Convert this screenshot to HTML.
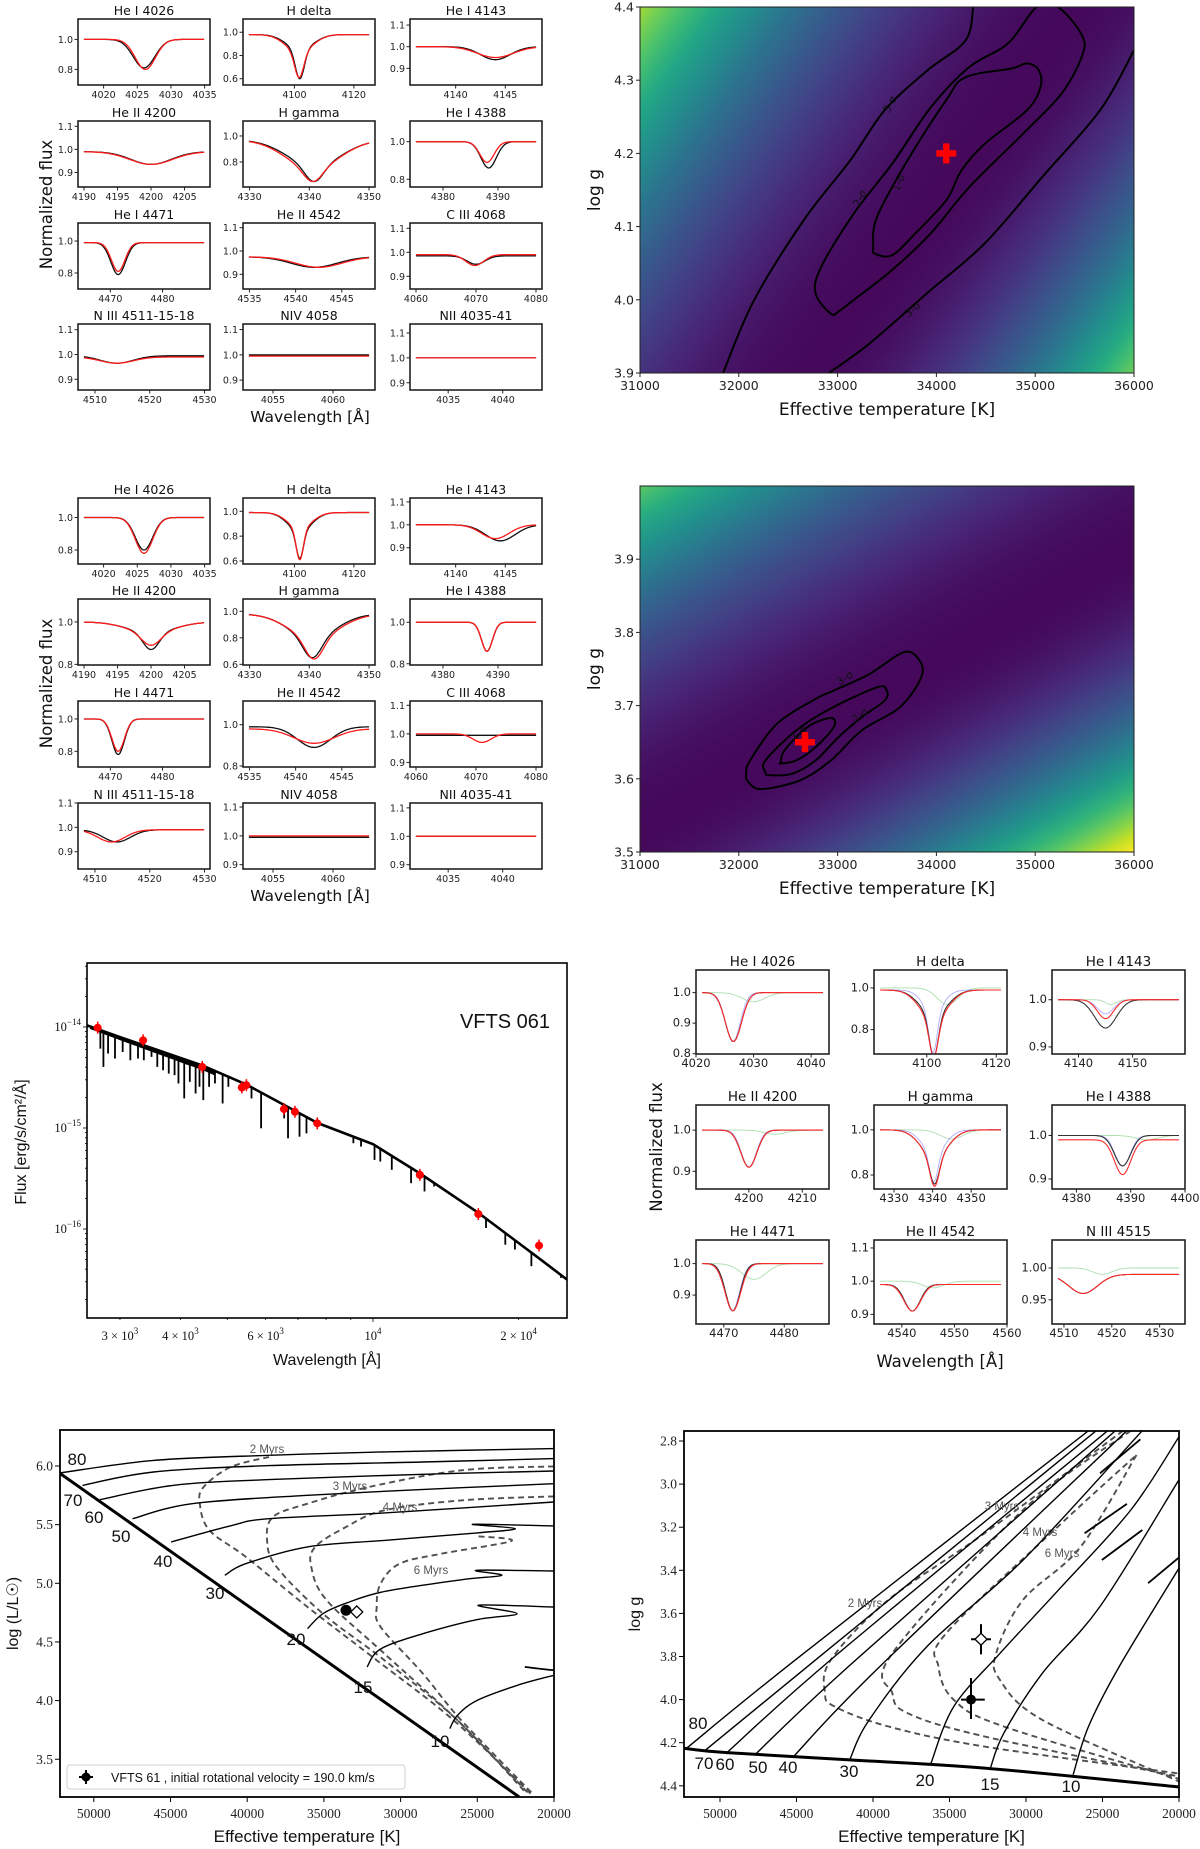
<!DOCTYPE html>
<html><head><meta charset="utf-8">
<style>
html,body{margin:0;padding:0;background:#fff;}
svg{display:block;font-family:"DejaVu Sans","Liberation Sans",sans-serif;}
</style></head>
<body>
<svg id="fig" xmlns="http://www.w3.org/2000/svg" width="1200" height="1849" viewBox="0 0 1200 1849">
<rect x="0" y="0" width="1200" height="1849" fill="#fff"/>
<g id="b1"></g>
<g id="b2"></g>
<g id="h1"></g>
<g id="h2"></g>
<g id="sed"></g>
<g id="b3"></g>
<g id="hrd"></g>
<g id="kiel"></g>
</svg>
<script>
// ---------------- DATA ----------------
const titles12 = ["He I 4026","H delta","He I 4143","He II 4200","H gamma","He I 4388","He I 4471","He II 4542","C III 4068","N III 4511-15-18","NIV 4058","NII 4035-41"];
const xr12 = [[4016.2,4035.8],[4082.7,4127.1],[4135.4,4148.7],[4189.1,4208.8],[4328.9,4351],[4374,4398],[4463.8,4489.1],[4534.3,4548.6],[4059,4081],[4506.9,4531],[4052.5,4063.5],[4031.5,4043.6]];
const xt12 = [[4020,4025,4030,4035],[4100,4120],[4140,4145],[4190,4195,4200,4205],[4330,4340,4350],[4380,4390],[4470,4480],[4535,4540,4545],[4060,4070,4080],[4510,4520,4530],[4055,4060],[4035,4040]];
const yr1 = [[0.696,1.136],[0.546,1.114],[0.823,1.128],[0.837,1.123],[0.608,1.115],[0.759,1.11],[0.7,1.1125],[0.837,1.12],[0.847,1.122],[0.857,1.123],[0.861,1.122],[0.871,1.136]];
const yt1 = [[0.8,1.0],[0.6,0.8,1.0],[0.9,1.0,1.1],[0.9,1.0,1.1],[0.8,1.0],[0.8,1.0],[0.8,1.0],[0.9,1.0,1.1],[0.9,1.0,1.1],[0.9,1.0,1.1],[0.9,1.0,1.1],[0.9,1.0,1.1]];
const obs1 = [[1.0,4026,0.19,1.6],[0.98,4101.8,0.25,1.5,0.13,4.5],[1.0,4144,0.06,1.5],[0.99,4200,0.055,3],[0.97,4340.8,0.12,1.5,0.2,4.5],[1.0,4388.3,0.14,1.4],[0.99,4471.5,0.2,1.4],[0.975,4542,0.045,2.5],[0.985,4070,0.035,1.5],[0.995,4514,0.03,3],[1.0,4058,0,1],[1.0,4038,0,1]];
const mod1 = [[1.0,4026.2,0.2,1.5],[0.98,4101.6,0.22,1.5,0.15,4.5],[1.0,4144,0.05,1.8],[0.99,4200,0.055,3.2],[0.97,4340.6,0.1,1.5,0.22,4.5],[1.0,4388,0.11,1.3],[0.99,4471.5,0.18,1.3],[0.975,4542.5,0.045,2.5],[0.99,4069.8,0.045,1.5],[0.99,4514,0.025,3],[0.995,4058,0,1],[1.0,4038,0,1]];
const yr2 = [[0.714,1.12],[0.576,1.107],[0.829,1.117],[0.797,1.108],[0.595,1.0925],[0.794,1.112],[0.703,1.111],[0.795,1.115],[0.884,1.115],[0.829,1.1],[0.885,1.114],[0.885,1.117]];
const yt2 = [[0.8,1.0],[0.6,0.8,1.0],[0.9,1.0,1.1],[0.8,1.0],[0.6,0.8,1.0],[0.8,1.0],[0.8,1.0],[0.8,1.0],[0.9,1.0,1.1],[0.9,1.0,1.1],[0.9,1.0,1.1],[0.9,1.0,1.1]];
const obs2 = [[1.0,4026,0.2,1.3],[0.99,4101.8,0.22,1.2,0.15,4],[1.0,4144.5,0.07,1.5],[1.0,4200,0.08,1.2,0.05,3.5],[0.98,4340.5,0.15,1.5,0.18,4],[1.0,4388,0.14,1.0],[1.0,4471.5,0.22,1.2],[0.99,4542,0.1,1.8],[0.995,4070,0,1],[0.99,4514,0.05,2.5],[0.995,4058,0,1],[1.0,4038,0,1]];
const mod2 = [[1.0,4026,0.22,1.3],[0.99,4101.8,0.25,1.2,0.13,4],[1.0,4144,0.06,1.4],[1.0,4200,0.06,1.4,0.05,3.5],[0.98,4340.8,0.16,1.5,0.18,4.2],[1.0,4388,0.14,1.0],[1.0,4471.5,0.2,1.2],[0.98,4542,0.07,2.2],[1.0,4071,0.03,1.5],[0.99,4513,0.05,2.5],[1.0,4058,0,1],[1.0,4038,0,1]];
const titles3 = ["He I 4026","H delta","He I 4143","He II 4200","H gamma","He I 4388","He I 4471","He II 4542","N III 4515"];
const xr3 = [[4020,4043.1],[4084.8,4123.1],[4135.1,4159.7],[4190.1,4215],[4324.8,4359.3],[4375.5,4400],[4465.4,4487.4],[4534.7,4560],[4507.5,4535.3]];
const xt3 = [[4020,4030,4040],[4100,4120],[4140,4150],[4200,4210],[4330,4340,4350],[4380,4390,4400],[4470,4480],[4540,4550,4560],[4510,4520,4530]];
const yr3 = [[0.799,1.074],[0.683,1.086],[0.885,1.063],[0.857,1.061],[0.738,1.11],[0.877,1.07],[0.808,1.075],[0.871,1.124],[0.912,1.044]];
const yt3 = [[0.8,0.9,1.0],[0.8,1.0],[0.9,1.0],[0.9,1.0],[0.8,1.0],[0.9,1.0],[0.9,1.0],[0.9,1.0,1.1],[0.95,1.0]];
const yl3 = [["0.8","0.9","1.0"],["0.8","1.0"],["0.9","1.0"],["0.9","1.0"],["0.8","1.0"],["0.9","1.0"],["0.9","1.0"],["0.9","1.0","1.1"],["0.95","1.00"]];
const obs3 = [[1.0,4026.5,0.16,1.4],[0.99,4102,0.2,1.3,0.12,4],[1.0,4145,0.06,2],[1.0,4200,0.09,1.5],[1.0,4340.5,0.12,1.2,0.12,3.5],[1.0,4388.5,0.07,1.5],[1.0,4471.5,0.15,1.2],[0.99,4542,0.08,1.5],[0.99,4514,0.03,3]];
const mod3 = [[1.0,4026.5,0.16,1.4],[0.99,4102,0.18,1.3,0.14,4],[1.0,4145,0.04,1.5],[1.0,4200,0.09,1.5],[1.0,4340.5,0.13,1.2,0.12,3.5],[0.99,4388.5,0.08,1.5],[1.0,4471.5,0.15,1.3],[0.99,4542,0.08,1.6],[0.99,4514,0.03,3]];
const blue3 = [[1.0,4026.4,0.16,1.3],[0.99,4101.8,0.2,1.2,0.1,3],[1.0,4145,0.03,1.5],[1.0,4200,0.09,1.4],[1.0,4340.3,0.13,1.1,0.1,3],[1.0,4388.5,0.07,1.4],[1.0,4471.4,0.15,1.2],[0.99,4542,0.08,1.5],[0.99,4514,0.03,3]];
const green3 = [[1.0,4030,0.03,2],[1.0,4106,0.08,3],[1.0,4146,0.01,1],[1.0,4205,0.01,2],[1.0,4345,0.04,3],[1.0,4393,0.01,2],[1.0,4475,0.05,2],[1.0,4546,0.02,2],[1.0,4518,0.01,2]];

const map1Field = [900,250,147,108,-353,261,385,300];
const map2Field = [870,700,200,350,-300,263,353,263];
const map1Best = [34100,4.2];
const map2Best = [32670,3.65];
const m1c1 = [[33360,4.072],[33399,4.113],[33710,4.191],[34100,4.273],[34294,4.304],[34762,4.316],[34917,4.323],[35034,4.314],[35054,4.291],[34917,4.259],[34489,4.213],[34255,4.177],[34100,4.136],[33788,4.091],[33554,4.061],[33379,4.063]];
const m1c2 = [[32931,3.981],[32776,4.009],[32834,4.045],[33165,4.118],[33554,4.186],[33944,4.263],[34333,4.318],[34723,4.35],[35015,4.4],[35229,4.4],[35463,4.364],[35482,4.336],[35268,4.282],[34878,4.227],[34333,4.154],[33944,4.091],[33554,4.041],[33165,4.0],[33009,3.984]];
const m1c3a = [[31841,3.9],[32153,3.999],[32659,4.109],[33126,4.19],[33477,4.259],[33905,4.313],[34294,4.354],[34372,4.4]];
const m1c3b = [[32912,3.9],[33321,3.94],[33905,4.009],[34489,4.077],[35073,4.168],[35657,4.259],[36000,4.341]];
const m2c3 = [[32075,3.607],[32114,3.625],[32386,3.675],[32776,3.709],[32970,3.721],[33321,3.743],[33671,3.773],[33827,3.762],[33847,3.739],[33632,3.698],[33243,3.666],[32931,3.625],[32620,3.598],[32231,3.586],[32094,3.596]];
const m2c2 = [[32269,3.609],[32269,3.625],[32581,3.666],[32931,3.696],[33399,3.725],[33496,3.721],[33477,3.707],[33243,3.684],[33009,3.657],[32776,3.625],[32542,3.607],[32308,3.605]];
const m2c1 = [[32425,3.623],[32464,3.639],[32698,3.671],[32931,3.683],[32963,3.671],[32776,3.643],[32581,3.625],[32425,3.621]];
const mapXTicks = [31000,32000,33000,34000,35000,36000];
const map1YTicks = [3.9,4.0,4.1,4.2,4.3,4.4];
const map2YTicks = [3.5,3.6,3.7,3.8,3.9];

const photWl = [2698,3349,4438,5358,5476,6546,6899,7671,12500,16510,22040];
const photLogF = [-14.007,-14.132,-14.395,-14.599,-14.576,-14.8125,-14.839,-14.954,-15.464,-15.852,-16.164];
const contWl = [2565,3000,4438,5476,7671,10000,12500,16510,22040,25170];
const contLogF = [-13.984,-14.1,-14.38,-14.57,-14.95,-15.16,-15.45,-15.84,-16.29,-16.5];
const lineWl = [2733,2773,2835,2930,3039,3152,3269,3361,3486,3583,3683,3784,3890,3963,4073,4183,4300,4380,4460,4585,4715,4890,5025,5610,5872,6553,6675,7050,7287,8310,9110,9448,10074,10354,10937,11988,12780,13376,17125,18770,19650,21250,24470];
const lineLogF = [-14.214,-14.395,-14.263,-14.3125,-14.247,-14.329,-14.3125,-14.329,-14.296,-14.395,-14.428,-14.461,-14.477,-14.559,-14.707,-14.543,-14.658,-14.592,-14.724,-14.592,-14.559,-14.757,-14.592,-14.707,-15.003,-14.905,-15.102,-15.086,-15.053,-15.02,-15.151,-15.184,-15.316,-15.332,-15.414,-15.546,-15.628,-15.579,-15.99,-16.155,-16.204,-16.368,-16.484];

const zamsL = [[52243,5.94],[22280,3.18]];
const massLabels = ["80","70","60","50","40","30","20","15","10"];
const tracksL = [
 [[52243,5.94],[46101,6.048],[38578,6.091],[31056,6.12],[20000,6.148]],
 [[50737,5.835],[46101,5.949],[38578,6.003],[28546,6.034],[20000,6.063]],
 [[49609,5.713],[44843,5.835],[38578,5.884],[28546,5.929],[20000,5.957]],
 [[47477,5.551],[43592,5.679],[36068,5.75],[26043,5.815],[20000,5.849]],
 [[44967,5.352],[41082,5.49],[38578,5.551],[31056,5.6],[20000,5.693]],
 [[41460,5.068],[40078,5.168],[36068,5.31],[31056,5.366],[25000,5.43],[22529,5.466],[25287,5.503],[20000,5.489]],
 [[36068,4.614],[35065,4.741],[33559,4.83],[31056,4.93],[26043,5.03],[23409,5.068],[25039,5.111],[20000,5.105]],
 [[32184,4.287],[31304,4.44],[28546,4.57],[25039,4.69],[22405,4.741],[24915,4.813],[20000,4.798]],
 [[26793,3.761],[26291,3.875],[25039,4.0],[22405,4.13],[20000,4.216]]
];
const hookL = [[21903,4.287],[20500,4.265],[20000,4.259]];
const massLabelPosL = [[77,1459],[73,1500],[94,1517],[121,1536],[163,1561],[215,1593],[296,1639],[363,1687],[440,1741]];
const isoNames = ["2 Myrs","3 Myrs","4 Myrs","6 Myrs"];
const isoL = [
 [[38578,6.077],[41082,5.991],[42842,5.821],[43090,5.679],[42464,5.452],[40078,5.224],[36068,4.798],[31558,4.344],[26545,3.832],[21525,3.207]],
 [[20000,5.997],[26043,5.963],[32060,5.821],[36068,5.679],[38324,5.565],[38702,5.366],[38076,5.139],[35065,4.741],[31056,4.344],[26291,3.832],[21779,3.207]],
 [[20000,5.741],[26043,5.707],[31056,5.622],[33559,5.48],[35566,5.31],[35821,5.139],[34817,4.855],[31056,4.401],[26291,3.832],[21650,3.207]],
 [[24915,5.401],[22783,5.361],[27295,5.253],[30052,5.168],[31304,4.997],[31558,4.798],[31304,4.628],[28546,4.23],[26043,3.832],[21400,3.207]]
];
const starL = [33559,4.77];
const starLalt = [32860,4.756];
const hrdXTicks = [50000,45000,40000,35000,30000,25000,20000];
const hrdYTicks = [3.5,4.0,4.5,5.0,5.5,6.0];

const zamsG = [[52366,4.226],[49550,4.246],[41503,4.28],[32706,4.318],[20000,4.405]];
const tracksG = [
 [[52190,4.226],[45150,3.82],[25915,2.752]],
 [[50930,4.233],[43137,3.78],[25412,2.752]],
 [[49550,4.246],[42509,3.8],[24660,2.752]],
 [[47660,4.252],[41503,3.84],[24157,2.752]],
 [[45150,4.261],[39745,3.86],[23404,2.752]],
 [[41503,4.276],[40248,4.094],[36477,3.754],[30190,3.352],[22398,2.752]],
 [[36222,4.298],[34719,4.032],[31699,3.785],[27680,3.476],[23150,3.12],[20000,2.78]],
 [[32327,4.318],[31451,4.156],[28935,3.878],[25163,3.568],[20000,2.98]],
 [[26922,4.349],[25915,4.125],[23908,3.847],[20000,3.39]]
];
const hooksG = [[[25163,2.95],[22522,2.792]],[[26170,3.228],[23404,3.092]],[[25039,3.352],[22398,3.213]],[[22019,3.46],[20000,3.34]]];
const massLabelPosG = [[698,1723],[704,1763],[725,1764],[758,1767],[788,1767],[849,1771],[925,1780],[990,1784],[1071,1786]];
const isoG = [
 [[23653,2.752],[32706,3.228],[38987,3.537],[42758,3.816],[43137,3.97],[42509,4.032],[38987,4.125],[32706,4.218],[20000,4.343]],
 [[23150,2.752],[30190,3.12],[38739,3.785],[38739,3.97],[37732,4.063],[32706,4.171],[20000,4.357]],
 [[22901,2.873],[27680,3.182],[35215,3.692],[35719,3.847],[34719,4.001],[31451,4.125],[20000,4.368]],
 [[22777,2.865],[26419,3.29],[30190,3.537],[31948,3.785],[31699,3.909],[28935,4.094],[20000,4.38]]
];
const isoLabelG = [[865,1603],[1002,1506],[1040,1532],[1062,1553]];
const isoLabelL = [[267,1449],[350,1486],[400,1507],[431,1570]];
const starG = [33594,4.0];
const starGerr = [650,900,0.1,0.09];
const starGalt = [32941,3.72];
const starGaltErr = [650,650,0.07,0.07];
const kielYTicks = [2.8,3.0,3.2,3.4,3.6,3.8,4.0,4.2,4.4];

// ---------------- HELPERS ----------------
const NS="http://www.w3.org/2000/svg";
function mk(tag, attrs, parent){const e=document.createElementNS(NS,tag);for(const k in attrs)e.setAttribute(k,attrs[k]);parent.appendChild(e);return e;}
function txt(parent,x,y,s,size,anchor,fam,rot,fill){const t=mk("text",{x:x,y:y,"font-size":size,"text-anchor":anchor||"middle",fill:fill||"#111"},parent);if(fam)t.setAttribute("font-family",fam);if(rot)t.setAttribute("transform","rotate("+rot+" "+x+" "+y+")");t.textContent=s;return t;}
function smooth(pts,closed){
 const n=pts.length;if(n<3){return "M"+pts.map(p=>p[0].toFixed(1)+","+p[1].toFixed(1)).join("L");}
 const P=i=>closed?pts[(i+n)%n]:pts[Math.max(0,Math.min(n-1,i))];
 let d="M"+pts[0][0].toFixed(1)+","+pts[0][1].toFixed(1);
 const m=closed?n:n-1;
 for(let i=0;i<m;i++){const p0=P(i-1),p1=P(i),p2=P(i+1),p3=P(i+2);
  const c1=[p1[0]+(p2[0]-p0[0])/6,p1[1]+(p2[1]-p0[1])/6],c2=[p2[0]-(p3[0]-p1[0])/6,p2[1]-(p3[1]-p1[1])/6];
  d+="C"+c1[0].toFixed(1)+","+c1[1].toFixed(1)+" "+c2[0].toFixed(1)+","+c2[1].toFixed(1)+" "+p2[0].toFixed(1)+","+p2[1].toFixed(1);}
 return d+(closed?"Z":"");}
function prof(p,x){return p[0]-p[2]*Math.exp(-((x-p[1])**2)/(2*p[3]*p[3]))-(p[4]||0)*Math.exp(-((x-p[1])**2)/(2*(p[5]||1)**2));}
let clipN=0;
const viridis=["#440154","#482475","#414487","#355f8d","#2a788e","#21918c","#22a884","#44bf70","#7ad151","#bddf26","#fde725"];
function vir(v){v=Math.max(0,Math.min(1,v));const f=v*10,i=Math.min(9,Math.floor(f)),t=f-i;
 const a=viridis[i],b=viridis[i+1];const h=(s,k)=>parseInt(s.substr(1+2*k,2),16);
 let c="#";for(let k=0;k<3;k++){c+=Math.round(h(a,k)+(h(b,k)-h(a,k))*t).toString(16).padStart(2,"0");}return c;}

// ---------------- SPECTRA PANELS ----------------
function panel(parent,x0,y0,w,h,title,xr,xt,yr,yt,ylab,lines,tfs,lfs,name){
 const g=mk("g",{},parent);
 
 
 const sx=x=>x0+(x-xr[0])/(xr[1]-xr[0])*w, sy=y=>y0+h-(y-yr[0])/(yr[1]-yr[0])*h;
 const cid="c"+(clipN++);
 const cp=mk("clipPath",{id:cid},g);mk("rect",{x:x0,y:y0,width:w,height:h},cp);
 const lg=mk("g",{"clip-path":"url(#"+cid+")"},g);
 lines.forEach(L=>{
  const a=xr[0]+(xr[1]-xr[0])*0.045,b=xr[1]-(xr[1]-xr[0])*0.045;const pts=[];
  for(let i=0;i<=140;i++){const x=a+(b-a)*i/140;pts.push(sx(x).toFixed(1)+","+sy(prof(L.p,x)).toFixed(1));}
  const pl=mk("polyline",{points:pts.join(" "),fill:"none",stroke:L.c,"stroke-width":L.w},lg);
  
  
 });
 const fr=mk("rect",{x:x0,y:y0,width:w,height:h,fill:"none",stroke:"#222","stroke-width":1.6},g);
 
 
 const tt=txt(g,x0+w/2,y0-4,title,tfs);
 
 
 xt.forEach(v=>{const X=sx(v);mk("line",{x1:X,y1:y0+h,x2:X,y2:y0+h+3.5,stroke:"#222","stroke-width":1},g);
  const t=txt(g,X,y0+h+13,String(v),lfs,"middle",null,null,"#222");
  
  });
 yt.forEach((v,i)=>{const Y=sy(v);mk("line",{x1:x0-3.5,y1:Y,x2:x0,y2:Y,stroke:"#222","stroke-width":1},g);
  const t=txt(g,x0-5,Y+3.5,ylab?ylab[i]:v.toFixed(1),lfs,"end",null,null,"#222");
  
  });
}
function grid12(id,rows,yr,yt,obs,mod,wlY){
 const G=document.getElementById(id);const cols=[78,243,410];
 for(let i=0;i<12;i++){const r=Math.floor(i/3),c=i%3;
  panel(G,cols[c],rows[r],132,66,titles12[i],xr12[i],xt12[i],yr[i],yt[i],null,
   [{p:obs[i],c:"#111",w:1.3,n:"observed-spectrum"},{p:mod[i],c:"#ff1a1a",w:1.3,n:"model-spectrum"}],12.5,9.5,"panel-"+(i+1));}
 const a=txt(G,310,wlY,"Wavelength [Å]",15.5);
 
 
 const b=txt(G,52,(rows[0]+rows[3]+66)/2,"Normalized flux",16.5,"middle",null,-90);
 
 
}
grid12("b1",[19,121,223,324],yr1,yt1,obs1,mod1,422);
grid12("b2",[498,599,701,803],yr2,yt2,obs2,mod2,901);
(function(){
 const G=document.getElementById("b3");const cols=[696,874,1052],rows=[970,1105,1240];
 for(let i=0;i<9;i++){const r=Math.floor(i/3),c=i%3;
  panel(G,cols[c],rows[r],133,84,titles3[i],xr3[i],xt3[i],yr3[i],yt3[i],yl3[i],
   [{p:green3[i],c:"rgba(120,200,120,0.6)",w:0.9,n:"green-model"},{p:blue3[i],c:"rgba(120,120,255,0.6)",w:0.9,n:"blue-model"},{p:obs3[i],c:"#333",w:1.1,n:"observed-spectrum"},{p:mod3[i],c:"#ff2a2a",w:1.1,n:"model-spectrum"}],13.5,11.5,"panel3-"+(i+1));}
 const a=txt(G,940,1367,"Wavelength [Å]",16.5);
 
 
 const b=txt(G,662,1147,"Normalized flux",16.5,"middle",null,-90);
 
 
})();

// ---------------- CHI2 MAPS ----------------
function chiMap(id,y0,y1,gmin,gmax,field,yt,best,contours,labels){
 const G=document.getElementById(id);const x0=640,x1=1134;
 const sx=T=>x0+(T-31000)/5000*(x1-x0), sy=g=>y1-(g-gmin)/(gmax-gmin)*(y1-y0);
 const [cx,cy,dx,dy,dmin,dmax,an,ap]=field;const L=Math.hypot(dx,dy),nx=dx/L,ny=dy/L;
 const defs=mk("defs",{},G);const gid=id+"grad";
 const lg=mk("linearGradient",{id:gid,gradientUnits:"userSpaceOnUse",x1:cx+dmin*nx,y1:cy+dmin*ny,x2:cx+dmax*nx,y2:cy+dmax*ny},defs);
 for(let i=0;i<=40;i++){const d=dmin+(dmax-dmin)*i/40;const v=d<0?(-d/an)**2:(d/ap)**2;
  mk("stop",{offset:(i/40).toFixed(3),"stop-color":vir(0.02+v)},lg);}
 const r=mk("rect",{x:x0,y:y0,width:x1-x0,height:y1-y0,fill:"url(#"+gid+")"},G);
 
 
 const cp=mk("clipPath",{id:id+"clip"},G);mk("rect",{x:x0,y:y0,width:x1-x0,height:y1-y0},cp);
 const cg=mk("g",{"clip-path":"url(#"+id+"clip)"},G);
 contours.forEach(c=>{const p=mk("path",{d:smooth(c.pts.map(q=>[sx(q[0]),sy(q[1])]),c.closed),fill:"none",stroke:"#000","stroke-width":2},cg);
  
  });
 labels.forEach(l=>{const t=txt(G,l[0],l[1],l[2],10.5,"middle",null,l[3],"#111");
  
  });
 const bx=sx(best[0]),by=sy(best[1]);
 const pg=mk("g",{fill:"#ff0000"},G);
 
 
 mk("rect",{x:bx-10,y:by-3.2,width:20,height:6.4},pg);mk("rect",{x:bx-3.2,y:by-10,width:6.4,height:20},pg);
 mk("rect",{x:x0,y:y0,width:x1-x0,height:y1-y0,fill:"none",stroke:"#222","stroke-width":1},G);
 mapXTicks.forEach(v=>{const X=sx(v);mk("line",{x1:X,y1:y1,x2:X,y2:y1+4,stroke:"#222"},G);
  const t=txt(G,X,y1+17,String(v),12.5,"middle",null,null,"#222");
  
  });
 yt.forEach(v=>{const Y=sy(v);mk("line",{x1:x0-4,y1:Y,x2:x0,y2:Y,stroke:"#222"},G);
  const t=txt(G,x0-6,Y+4.5,v.toFixed(1),12.5,"end",null,null,"#222");
  
  });
 const a=txt(G,887,y1+42,"Effective temperature [K]",17);
 
 
 const b=txt(G,600,(y0+y1)/2,"log g",17,"middle",null,-90);
 
 
}
chiMap("h1",7,373,3.9,4.4,map1Field,map1YTicks,map1Best,
 [{pts:m1c1,closed:true,n:"contour-1-sigma"},{pts:m1c2,closed:true,n:"contour-2-sigma"},{pts:m1c3a,closed:false,n:"contour-3-sigma-left"},{pts:m1c3b,closed:false,n:"contour-3-sigma-right"}],
 [[893,106,"3-σ",-62],[863,200,"2-σ",-62],[902,184,"1-σ",-68],[915,312,"3-σ",-42]]);
chiMap("h2",486,852,3.5,4.0,map2Field,map2YTicks,map2Best,
 [{pts:m2c3,closed:true,n:"contour-3-sigma"},{pts:m2c2,closed:true,n:"contour-2-sigma"},{pts:m2c1,closed:true,n:"contour-1-sigma"}],
 [[847,681,"3-σ",-35],[862,718,"2-σ",-38],[801,736,"1-σ",-40]]);

// ---------------- SED ----------------
(function(){
 const G=document.getElementById("sed");const x0=87,x1=567,y0=963,y1=1318;
 const lmin=3.409,lmax=4.401;
 const sx=w=>x0+(Math.log10(w)-lmin)/(lmax-lmin)*(x1-x0), sy=lf=>1027+(-14-lf)*101;
 const cont=w=>{const lw=Math.log10(w);for(let i=0;i<contWl.length-1;i++){const a=Math.log10(contWl[i]),b=Math.log10(contWl[i+1]);
  if(lw<=b||i==contWl.length-2){const t=(lw-a)/(b-a);return contLogF[i]+(contLogF[i+1]-contLogF[i])*t;}}};
 const cp=mk("clipPath",{id:"sedclip"},G);mk("rect",{x:x0,y:y0,width:x1-x0,height:y1-y0},cp);
 const cg=mk("g",{"clip-path":"url(#sedclip)"},G);
 const fpts=[];for(let w=2600;w<=4700;w+=50)fpts.push(sx(w).toFixed(1)+","+sy(cont(w)).toFixed(1));
 for(let w=4700;w>=2600;w-=50)fpts.push(sx(w).toFixed(1)+","+sy(cont(w)-0.025-0.02*Math.min(1,(w-2600)/1500)).toFixed(1));
 const fb=mk("polygon",{points:fpts.join(" "),fill:"#000"},cg);
 
 
 const cpts=contWl.map(w=>sx(w).toFixed(1)+","+sy(cont(w)).toFixed(1));
 const cl=mk("polyline",{points:cpts.join(" "),fill:"none",stroke:"#000","stroke-width":2.6},cg);
 
 
 lineWl.forEach((w,i)=>{const l=mk("line",{x1:sx(w),y1:sy(cont(w)),x2:sx(w),y2:sy(lineLogF[i]),stroke:"#000","stroke-width":1.8},cg);
  
  });
 photWl.forEach((w,i)=>{const X=sx(w),Y=sy(photLogF[i]);
  const pg=mk("g",{},cg);
  
  
  mk("line",{x1:X,y1:Y-6,x2:X,y2:Y+6,stroke:"#f00","stroke-width":1.5},pg);
  mk("line",{x1:X-4,y1:Y,x2:X+4,y2:Y,stroke:"#f00","stroke-width":1.5},pg);
  mk("circle",{cx:X,cy:Y,r:4,fill:"#f00"},pg);});
 mk("rect",{x:x0,y:y0,width:x1-x0,height:y1-y0,fill:"none",stroke:"#000","stroke-width":1.6},G);
 [-17,-16,-15,-14].forEach(e=>{for(let k=1;k<10;k++){const lf=e+Math.log10(k);const Y=sy(lf);if(Y<y0||Y>y1)continue;
  mk("line",{x1:x0-(k==1?4:2),y1:Y,x2:x0,y2:Y,stroke:"#000","stroke-width":0.8},G);
  if(k==1){const t=mk("text",{x:x0-6,y:Y+4,"font-size":12.5,"text-anchor":"end","font-family":"Liberation Serif, serif",fill:"#111"},G);
   
   
   t.textContent="10";const s=mk("tspan",{dy:-6,"font-size":9},t);s.textContent="−"+(-e);}}});
 [3000,4000,5000,6000,7000,8000,9000,10000,20000].forEach(w=>{const X=sx(w);mk("line",{x1:X,y1:y1,x2:X,y2:y1+(w==10000?4:2),stroke:"#000","stroke-width":0.8},G);});
 [[3000,"3 × 10","3"],[4000,"4 × 10","3"],[6000,"6 × 10","3"],[10000,"10","4"],[20000,"2 × 10","4"]].forEach(a=>{
  const t=mk("text",{x:sx(a[0]),y:1340,"font-size":12.5,"text-anchor":"middle","font-family":"Liberation Serif, serif",fill:"#111"},G);
  
  
  t.textContent=a[1];const s=mk("tspan",{dy:-6,"font-size":9},t);s.textContent=a[2];});
 const a=txt(G,327,1365,"Wavelength [Å]",16,"middle","Liberation Sans, sans-serif");
 
 
 const b=txt(G,26,1142,"Flux [erg/s/cm²/Å]",16,"middle","Liberation Sans, sans-serif",-90);
 
 
 const c=txt(G,505,1028,"VFTS 061",20,"middle","Liberation Sans, sans-serif");
 
 
})();

// ---------------- HR / KIEL ----------------
function evoPlot(id,x0,x1,y0,y1,sx,sy,zams,tracks,extra,mlab,mpos,iso,isoPos,yt,yfmt,ylabel,ylx){
 const G=document.getElementById(id);
 const cp=mk("clipPath",{id:id+"clip"},G);mk("rect",{x:x0,y:y0,width:x1-x0,height:y1-y0},cp);
 const cg=mk("g",{"clip-path":"url(#"+id+"clip)"},G);
 iso.forEach((c,i)=>{const p=mk("path",{d:smooth(c.map(q=>[sx(q[0]),sy(q[1])]),false),fill:"none",stroke:"#505050","stroke-width":1.9,"stroke-dasharray":"6,4"},cg);
  
  });
 tracks.forEach((c,i)=>{const p=mk("path",{d:smooth(c.map(q=>[sx(q[0]),sy(q[1])]),false),fill:"none",stroke:"#000","stroke-width":1.4},cg);
  
  });
 extra.forEach(c=>{const p=mk("path",{d:smooth(c.map(q=>[sx(q[0]),sy(q[1])]),false),fill:"none",stroke:"#000","stroke-width":1.8},cg);
  
  });
 const z=mk("path",{d:smooth(zams.map(q=>[sx(q[0]),sy(q[1])]),false),fill:"none",stroke:"#000","stroke-width":3},cg);
 
 
 mk("rect",{x:x0,y:y0,width:x1-x0,height:y1-y0,fill:"none",stroke:"#000","stroke-width":1.8},G);
 mlab.forEach((m,i)=>{const t=txt(G,mpos[i][0],mpos[i][1]+6,m,17,"middle","Liberation Sans, sans-serif");
  
  });
 isoNames.forEach((s,i)=>{const t=txt(G,isoPos[i][0],isoPos[i][1]+4,s,11.5,"middle","Liberation Sans, sans-serif",null,"#555");
  
  });
 hrdXTicks.forEach(v=>{const X=sx(v);mk("line",{x1:X,y1:y1,x2:X,y2:y1+5,stroke:"#000"},G);
  const t=txt(G,X,1818,String(v),13.5,"middle","Liberation Serif, serif","","#222");
  
  });
 yt.forEach(v=>{const Y=sy(v);mk("line",{x1:x0-5,y1:Y,x2:x0,y2:Y,stroke:"#000"},G);
  const t=txt(G,x0-7,Y+4.5,v.toFixed(1),13.5,"end","Liberation Serif, serif","","#222");
  
  });
 const a=txt(G,(x0+x1)/2,1842,"Effective temperature [K]",17,"middle","Liberation Sans, sans-serif");
 
 
 const b=txt(G,ylx,(y0+y1)/2,ylabel,16,"middle","Liberation Sans, sans-serif",-90);
 
 
 return G;
}
(function(){
 const sx=T=>554-(T-20000)/5000*76.7, sy=L=>1466+(6.0-L)*117.3;
 const G=evoPlot("hrd",60,554,1430,1797,sx,sy,zamsL,tracksL,[hookL],massLabels,massLabelPosL,isoL,isoLabelL,hrdYTicks,null,"log (L/L☉)",18);
 const s=mk("circle",{cx:sx(starL[0]),cy:sy(starL[1]),r:5.5,fill:"#000"},G);
 
 
 const X=sx(starLalt[0]),Y=sy(starLalt[1]);
 const d=mk("path",{d:`M${X-6},${Y}L${X},${Y-6}L${X+6},${Y}L${X},${Y+6}Z`,fill:"#fff",stroke:"#000","stroke-width":1.3},G);
 
 
 const lg=mk("g",{},G);
 
 
 mk("rect",{x:67,y:1765,width:338,height:24,rx:3,fill:"#fff",stroke:"#d0d0d0","stroke-width":1},lg);
 mk("line",{x1:86,y1:1770,x2:86,y2:1784,stroke:"#000","stroke-width":2},lg);
 mk("line",{x1:79,y1:1777,x2:93,y2:1777,stroke:"#000","stroke-width":2},lg);
 mk("circle",{cx:86,cy:1777,r:4.5,fill:"#000"},lg);
 const lt=txt(lg,111,1782,"VFTS 61 , initial rotational velocity = 190.0 km/s",12.5,"start","Liberation Sans, sans-serif");
 
 
})();
(function(){
 const sx=T=>720+(50000-T)/5000*76.5, sy=g=>1441+(g-2.8)/0.2*43.1;
 const G=evoPlot("kiel",684,1179,1431,1797,sx,sy,zamsG,tracksG,hooksG,massLabels,massLabelPosG,isoG,isoLabelG,kielYTicks,null,"log g",640);
 function star(p,e,filled,name){const X=sx(p[0]),Y=sy(p[1]);const g=mk("g",{},G);
  
  
  mk("line",{x1:sx(p[0]+e[0]),y1:Y,x2:sx(p[0]-e[1]),y2:Y,stroke:"#000","stroke-width":2},g);
  mk("line",{x1:X,y1:sy(p[1]-e[2]),x2:X,y2:sy(p[1]+e[3]),stroke:"#000","stroke-width":2},g);
  if(filled)mk("circle",{cx:X,cy:Y,r:5,fill:"#000"},g);
  else mk("path",{d:`M${X-6},${Y}L${X},${Y-6}L${X+6},${Y}L${X},${Y+6}Z`,fill:"#fff",stroke:"#000","stroke-width":1.3},g);}
 star(starG,starGerr,true,'star-position');
 star(starGalt,starGaltErr,false,'star-position-alt');
})();
</script>
</body></html>
